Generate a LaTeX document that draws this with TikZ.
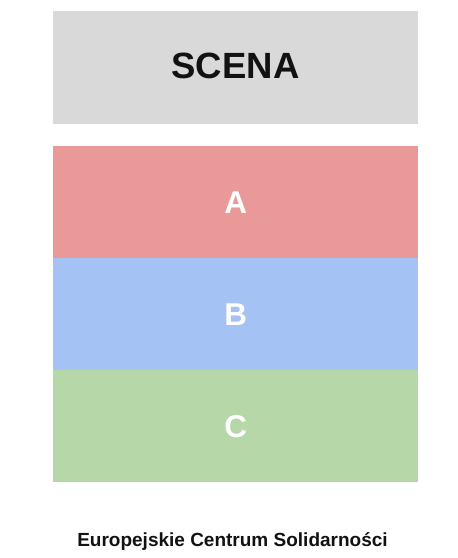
\documentclass[tikz,border=0pt]{standalone}
\usepackage{fontspec}
\setmainfont{Liberation Sans}
\definecolor{scenagray}{HTML}{D9D9D9}
\definecolor{secA}{HTML}{EA9999}
\definecolor{secB}{HTML}{A4C2F4}
\definecolor{secC}{HTML}{B6D7A8}
\begin{document}
\begin{tikzpicture}[x=1pt,y=-1pt,
  zone/.style={draw=none,minimum width=365pt,minimum height=112pt,inner sep=0pt,anchor=north west},
  zonelabel/.style={font=\fontsize{31.5}{31.5}\selectfont\bfseries,text=white},
]
\useasboundingbox (0,0) rectangle (458,558);
\fill[white] (0,0) rectangle (458,558);
\node[zone,fill=scenagray,minimum height=113pt] (scena) at (53,11) {};
\node[font=\fontsize{36.5}{36.5}\selectfont\bfseries,text=black!93] (scenat) at (235.5,65.5) {SCENA};
\node[zone,fill=secA] (a) at (53,146) {};
\node[zone,fill=secB] (b) at (53,258) {};
\node[zone,fill=secC] (c) at (53,370) {};
\node[zonelabel] (at) at (a.center) {A};
\node[zonelabel] (bt) at (b.center) {B};
\node[zonelabel] (ct) at (c.center) {C};
\node[font=\fontsize{19}{19}\selectfont\bfseries,text=black!93] (foot) at (232.5,541.5) {Europejskie Centrum Solidarności};
\end{tikzpicture}
\end{document}
